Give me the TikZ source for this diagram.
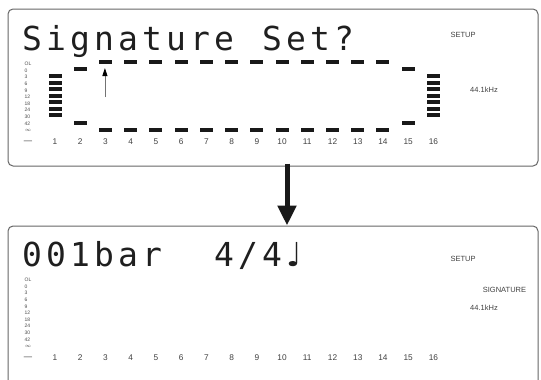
\documentclass[tikz,border=0pt]{standalone}
\usepackage{fontspec}
\setmainfont{Liberation Sans}
\newfontfamily\lcdfont{DejaVu Sans Mono}
\newfontfamily\notefont{DejaVu Sans}
\usetikzlibrary{arrows.meta}
\newcommand\lc[1]{\makebox[24pt][l]{#1}}
\begin{document}
\begin{tikzpicture}[x=1pt,y=-1pt,
  panel/.style={draw=black!60, line width=1pt, rounded corners=5pt, minimum width=530pt, inner sep=0pt},
  lbl/.style={font=\fontsize{7.5}{8}\selectfont, text=black!75, inner sep=0pt},
  num/.style={font=\fontsize{8.3}{9}\selectfont, text=black!75, inner sep=0pt},
  tinylbl/.style={font=\fontsize{5}{5.5}\selectfont, text=black!70, inner sep=0pt, anchor=west},
  seg/.style={fill=black!90},
  lcd/.style={font=\lcdfont\fontsize{33}{33}\selectfont, anchor=base west, inner sep=0pt, text=black!88},
  bigarrow/.style={line width=5pt, draw=black!90, -{Triangle[width=18pt,length=20pt]}},
  cursor/.style={draw=black!55, line width=0.8pt, -{Triangle[width=5pt,length=8pt,color=black]}}
]
\useasboundingbox (0,0) rectangle (541,380);
\fill[white] (0,0) rectangle (541,380);

% panels
\node[panel, minimum height=157pt] (top) at (273,87.5) {};
\node[panel, minimum height=200pt] (bot) at (273,326) {};

% common scales in both panels
\foreach \p/\o in {t/0,b/216}{
  \begin{scope}[shift={(0,\o)}]
    \foreach \l [count=\k from 0] in {OL,0,3,6,9,12,18,24,30,42,$\infty$}
      \node[tinylbl] (\p m\k) at (24.5,{64+\k*6.6}) {\l};
    \node[num] (\p dash) at (28,142) {\textemdash};
    \foreach \i in {1,...,16}{
      \pgfmathsetmacro{\cx}{55+(\i-1)*25.23}
      \node[num] (\p n\i) at (\cx,142) {\i};
    }
  \end{scope}
}

% top panel meters
\foreach \k in {0,...,6}{
  \fill[seg] (48.5,{74+\k*6.5}) rectangle ++(13,4);
  \fill[seg] (427,{74+\k*6.5}) rectangle ++(13,4);
}
\foreach \i in {3,...,14}{
  \pgfmathsetmacro{\cx}{55+(\i-1)*25.23}
  \fill[seg] (\cx-6.5,60) rectangle ++(13,4);
  \fill[seg] (\cx-6.5,128) rectangle ++(13,4);
}
\foreach \i in {2,15}{
  \pgfmathsetmacro{\cx}{55+(\i-1)*25.23}
  \fill[seg] (\cx-6.5,67) rectangle ++(13,4);
  \fill[seg] (\cx-6.5,121) rectangle ++(13,4);
}
\coordinate (cb) at (104.9,97);
\coordinate (ct) at (104.9,68);
\draw[cursor] (cb) -- (ct);

% top texts
\node[lcd] (title) at (22,50) {\lc{S}\lc{i}\lc{g}\lc{n}\lc{a}\lc{t}\lc{u}\lc{r}\lc{e}\lc{ }\lc{S}\lc{e}\lc{t}\lc{?}};
\node[lbl] (setup1) at (463,34.5) {SETUP};
\node[lbl] (freq1) at (484,90) {44.1kHz};

% bottom texts
\node[lcd] (counter) at (22,266) {\lc{0}\lc{0}\lc{1}\lc{b}\lc{a}\lc{r}\lc{ }\lc{ }\lc{4}\lc{/}\lc{4}\lc{\notefont ♩}};
\node[lbl] (setup2) at (463,259) {SETUP};
\node[lbl] (sig) at (504.5,290) {SIGNATURE};
\node[lbl] (freq2) at (484,308) {44.1kHz};

% connector
\coordinate (ax) at (287,0);
\draw[bigarrow] ([yshift=3pt]ax |- top.south) -- (ax |- bot.north);
\end{tikzpicture}
\end{document}
